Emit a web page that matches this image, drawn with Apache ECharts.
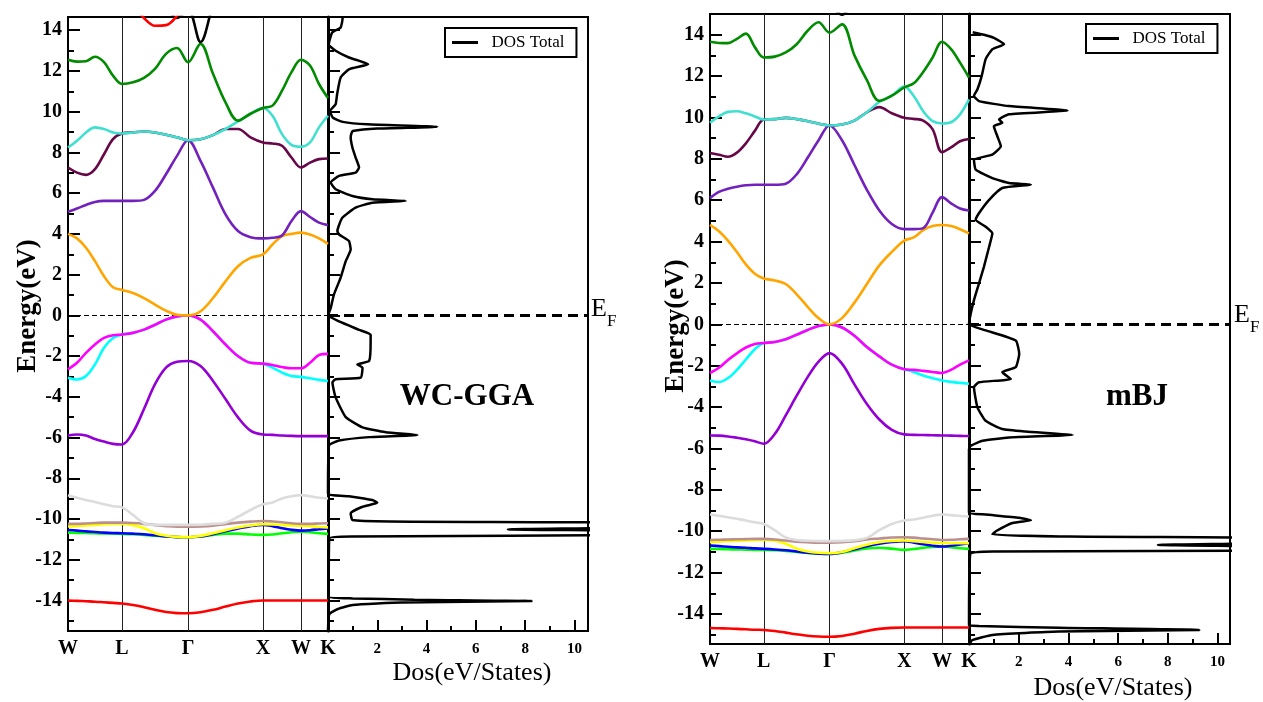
<!DOCTYPE html>
<html><head><meta charset="utf-8">
<script src="https://cdn.jsdelivr.net/npm/echarts@6/dist/echarts.min.js"></script>
<style>html,body{margin:0;padding:0;background:#fff}#c{width:1263px;height:702px}</style>
</head><body><div id="c"></div>
<script>
// ---- k-path and tick data ----
const kPath = [0, 0.09, 0.18, 0.27, 0.36, 0.45, 0.54, 0.65, 0.76, 0.87, 0.98, 1.09, 1.20, 1.325, 1.45, 1.575, 1.70, 1.825, 1.95, 2.045, 2.14, 2.235, 2.33, 2.42, 2.51, 2.60];
const kTicks = [0, 0.54, 1.20, 1.95, 2.33, 2.60];
const kLabels = ['W', 'L', 'Γ', 'X', 'W', 'K'];
const energyMajor = [-14, -12, -10, -8, -6, -4, -2, 0, 2, 4, 6, 8, 10, 12, 14];
const energyMinor = [-15, -13, -11, -9, -7, -5, -3, -1, 1, 3, 5, 7, 9, 11, 13];
const dosMajor = [2, 4, 6, 8, 10];
const dosMinor = [1, 3, 5, 7, 9];
const bandColors = ['#FF0000', '#00FF00', '#0000FF', '#FFFF00', '#BC8F8F', '#DCDCDC', '#9400D3', '#00FFFF', '#FF00FF', '#FFA500', '#7221BC', '#670748', '#40E0D0', '#008B00', '#000000', '#FF0000'];

// ---- WC-GGA bands (eV) ----
const ggaRed1 = [-14.0, -14.02, -14.04, -14.06, -14.09, -14.12, -14.15, -14.22, -14.33, -14.46, -14.57, -14.62, -14.63, -14.58, -14.46, -14.3, -14.15, -14.05, -14.0, -14.0, -14.0, -14.0, -14.0, -14.0, -14.0, -14.0];
const ggaLime = [-10.67, -10.68, -10.69, -10.7, -10.71, -10.72, -10.73, -10.75, -10.78, -10.82, -10.86, -10.89, -10.9, -10.86, -10.78, -10.72, -10.72, -10.76, -10.78, -10.76, -10.7, -10.65, -10.62, -10.65, -10.7, -10.73];
const ggaBlue = [-10.54, -10.57, -10.61, -10.64, -10.67, -10.69, -10.7, -10.72, -10.75, -10.8, -10.86, -10.89, -10.9, -10.86, -10.75, -10.6, -10.47, -10.35, -10.29, -10.35, -10.45, -10.53, -10.57, -10.55, -10.5, -10.46];
const ggaYellow = [-10.37, -10.35, -10.32, -10.29, -10.26, -10.24, -10.24, -10.3, -10.45, -10.7, -10.82, -10.88, -10.89, -10.83, -10.7, -10.55, -10.42, -10.32, -10.26, -10.27, -10.3, -10.32, -10.34, -10.36, -10.39, -10.41];
const ggaBrown = [-10.24, -10.24, -10.22, -10.2, -10.18, -10.18, -10.18, -10.2, -10.24, -10.3, -10.35, -10.38, -10.38, -10.37, -10.33, -10.25, -10.18, -10.13, -10.1, -10.12, -10.16, -10.21, -10.24, -10.24, -10.22, -10.21];
const ggaGrey = [-8.83, -8.96, -9.07, -9.17, -9.28, -9.37, -9.43, -9.8, -10.21, -10.29, -10.29, -10.29, -10.29, -10.28, -10.24, -10.18, -9.89, -9.56, -9.28, -9.19, -8.99, -8.88, -8.83, -8.88, -8.96, -8.99];
const ggaViolet = [-5.9, -5.85, -5.9, -6.07, -6.2, -6.31, -6.34, -5.74, -4.6, -3.38, -2.57, -2.28, -2.24, -2.49, -3.22, -4.11, -5.01, -5.66, -5.85, -5.87, -5.9, -5.92, -5.93, -5.93, -5.93, -5.93];
const ggaCyan = [-3.06, -3.15, -2.98, -2.41, -1.59, -1.11, -0.94, -0.86, -0.7, -0.46, -0.21, -0.05, 0, -0.21, -0.78, -1.43, -2.0, -2.33, -2.37, -2.57, -2.81, -2.98, -3.02, -3.09, -3.17, -3.22];
const ggaMagenta = [-2.65, -2.33, -1.84, -1.43, -1.11, -0.98, -0.94, -0.86, -0.7, -0.46, -0.21, -0.05, 0, -0.21, -0.78, -1.43, -2.0, -2.33, -2.37, -2.44, -2.54, -2.6, -2.6, -2.33, -1.95, -1.89];
const ggaOrange = [4.0, 3.78, 3.32, 2.66, 1.92, 1.38, 1.25, 1.1, 0.85, 0.53, 0.23, 0.03, 0, 0.2, 0.85, 1.67, 2.41, 2.82, 2.99, 3.48, 3.89, 4.0, 4.06, 3.97, 3.78, 3.51];
const ggaIndigo = [5.09, 5.25, 5.42, 5.57, 5.62, 5.62, 5.62, 5.62, 5.67, 6.11, 6.93, 7.83, 8.6, 7.59, 6.27, 4.96, 4.14, 3.84, 3.78, 3.81, 3.92, 4.63, 5.12, 4.83, 4.55, 4.43];
const ggaMaroon = [7.26, 7.01, 6.9, 7.18, 7.91, 8.65, 8.93, 8.98, 9.03, 8.98, 8.87, 8.74, 8.6, 8.65, 8.85, 9.15, 9.15, 8.74, 8.49, 8.44, 8.33, 7.75, 7.26, 7.5, 7.67, 7.7];
const ggaTurquoise = [8.24, 8.57, 8.98, 9.23, 9.15, 8.98, 8.93, 8.98, 9.03, 8.98, 8.87, 8.74, 8.6, 8.65, 8.85, 9.15, 9.52, 9.9, 10.18, 9.8, 8.9, 8.37, 8.28, 8.49, 9.23, 9.8];
const ggaGreen = [12.55, 12.46, 12.48, 12.7, 12.43, 11.77, 11.36, 11.44, 11.66, 12.1, 12.84, 13.13, 12.43, 13.33, 11.86, 10.46, 9.56, 9.9, 10.18, 10.3, 11.03, 11.94, 12.55, 12.27, 11.36, 10.67];
const ggaBlack = [17, 17, 17, 17, 17, 17, 17, 17, 17, 16.2, 15.2, 14.6, 15.0, 13.42, 15.2, 16.5, 17, 17, 17, 17, 17, 17, 17, 17, 17, 17];
const ggaRed2 = [18, 18, 18, 18, 18, 17.5, 16.5, 15.3, 14.6, 14.22, 14.25, 14.7, 15.5, 16.5, 17.5, 18, 18, 18, 18, 18, 18, 18, 18, 18, 18, 18];

// ---- mBJ bands (eV) ----
const mbjRed1 = [-14.68, -14.69, -14.7, -14.72, -14.74, -14.76, -14.77, -14.82, -14.9, -14.98, -15.05, -15.09, -15.1, -15.06, -14.95, -14.82, -14.72, -14.67, -14.65, -14.65, -14.65, -14.65, -14.65, -14.65, -14.65, -14.65];
const mbjLime = [-10.85, -10.86, -10.87, -10.88, -10.89, -10.9, -10.9, -10.92, -10.95, -11.0, -11.05, -11.08, -11.1, -11.04, -10.93, -10.83, -10.8, -10.84, -10.9, -10.86, -10.8, -10.76, -10.74, -10.77, -10.82, -10.85];
const mbjBlue = [-10.69, -10.72, -10.75, -10.78, -10.8, -10.83, -10.85, -10.88, -10.92, -10.98, -11.04, -11.08, -11.1, -11.02, -10.87, -10.72, -10.6, -10.52, -10.48, -10.55, -10.63, -10.7, -10.74, -10.7, -10.64, -10.58];
const mbjYellow = [-10.53, -10.5, -10.48, -10.46, -10.44, -10.43, -10.42, -10.46, -10.6, -10.85, -10.98, -11.04, -11.06, -11.0, -10.82, -10.65, -10.53, -10.47, -10.45, -10.48, -10.52, -10.56, -10.58, -10.58, -10.58, -10.58];
const mbjBrown = [-10.42, -10.41, -10.4, -10.39, -10.38, -10.37, -10.37, -10.4, -10.45, -10.5, -10.53, -10.55, -10.55, -10.53, -10.48, -10.4, -10.35, -10.3, -10.29, -10.31, -10.35, -10.39, -10.42, -10.41, -10.39, -10.37];
const mbjGrey = [-9.19, -9.25, -9.32, -9.4, -9.48, -9.57, -9.65, -9.95, -10.3, -10.42, -10.46, -10.48, -10.48, -10.47, -10.43, -10.32, -9.95, -9.65, -9.48, -9.43, -9.35, -9.25, -9.19, -9.22, -9.26, -9.29];
const mbjViolet = [-5.37, -5.38, -5.42, -5.48, -5.55, -5.65, -5.77, -5.3, -4.4, -3.45, -2.55, -1.8, -1.39, -1.9, -2.9, -3.85, -4.6, -5.1, -5.32, -5.34, -5.35, -5.36, -5.37, -5.38, -5.39, -5.4];
const mbjCyan = [-2.71, -2.79, -2.6, -2.2, -1.7, -1.2, -0.9, -0.85, -0.72, -0.5, -0.27, -0.08, 0, -0.15, -0.55, -1.1, -1.55, -1.95, -2.17, -2.3, -2.47, -2.6, -2.71, -2.78, -2.83, -2.87];
const mbjMagenta = [-2.35, -2.1, -1.72, -1.4, -1.12, -0.95, -0.9, -0.85, -0.72, -0.5, -0.27, -0.08, 0, -0.15, -0.55, -1.1, -1.55, -1.95, -2.17, -2.2, -2.25, -2.3, -2.35, -2.2, -1.95, -1.74];
const mbjOrange = [4.81, 4.5, 4.05, 3.5, 2.9, 2.45, 2.22, 2.12, 1.95, 1.45, 0.85, 0.3, 0, 0.3, 1.05, 1.95, 2.85, 3.5, 4.05, 4.2, 4.55, 4.75, 4.8, 4.75, 4.6, 4.4];
const mbjIndigo = [6.1, 6.4, 6.55, 6.65, 6.72, 6.75, 6.75, 6.75, 6.8, 7.25, 8.05, 8.9, 9.61, 8.9, 7.7, 6.5, 5.5, 4.85, 4.6, 4.6, 4.65, 5.4, 6.15, 5.85, 5.6, 5.5];
const mbjMaroon = [8.28, 8.2, 8.1, 8.3, 8.75, 9.35, 9.9, 9.92, 9.98, 9.92, 9.82, 9.7, 9.61, 9.66, 9.85, 10.25, 10.5, 10.2, 9.98, 9.93, 9.85, 9.42, 8.32, 8.55, 8.85, 8.96];
const mbjTurquoise = [9.74, 10.05, 10.27, 10.3, 10.2, 10.05, 9.9, 9.92, 9.98, 9.92, 9.82, 9.7, 9.61, 9.66, 9.85, 10.25, 10.75, 11.05, 11.49, 11.04, 10.3, 9.82, 9.71, 9.77, 10.15, 10.87];
const mbjGreen = [13.66, 13.6, 13.59, 13.8, 14.05, 13.4, 12.9, 12.94, 13.14, 13.54, 14.19, 14.6, 14.1, 14.5, 13.0, 11.8, 10.8, 11.05, 11.45, 11.65, 12.2, 12.9, 13.66, 13.3, 12.65, 11.93];
const mbjBlack = [17, 17, 17, 17, 17, 17, 17, 17, 17, 17, 17, 16.2, 15.5, 14.97, 15.8, 17, 17, 17, 17, 17, 17, 17, 17, 17, 17, 17];
const mbjRed2 = [18, 18, 18, 18, 18, 18, 18, 18, 18, 18, 18, 18, 18, 18, 18, 18, 18, 18, 18, 18, 18, 18, 18, 18, 18, 18];

// ---- total DOS (energy in eV, DOS in states/eV) ----
const ggaDosE = [14.7, 14.46, 14.13, 13.89, 13.3, 12.99, 12.66, 12.33, 12.08, 11.67, 10.86, 10.37, 10.03, 9.7, 9.5, 9.38, 9.26, 9.17, 9.05, 8.93, 8.74, 8.24, 7.75, 7.26, 7.01, 6.85, 6.52, 6.19, 5.86, 5.7, 5.62, 5.53, 5.29, 4.79, 4.14, 3.97, 3.65, 3.23, 2.66, 1.84, 1.02, 0.36, 0, -0.3, -0.71, -0.95, -1.27, -2.24, -2.41, -2.57, -3.06, -3.14, -3.3, -4.03, -5.0, -5.5, -5.74, -5.87, -5.98, -6.15, -6.39, -8.75, -8.88, -9.07, -9.2, -9.4, -9.72, -10.05, -10.12, -10.2, -10.38, -10.51, -10.62, -10.78, -10.86, -10.95, -13.82, -13.9, -13.96, -14.03, -14.1, -14.22, -14.42, -14.68, -15.5];
const ggaDosV = [0.6, 0.58, 0.51, 0.17, 0.03, 0.31, 0.85, 1.63, 0.85, 0.51, 0.37, 0.31, 0.08, 0.2, 0.6, 1.6, 4.44, 2.0, 1.0, 0.95, 0.92, 0.99, 1.12, 1.26, 1.12, 0.45, 0.11, 0.31, 0.99, 1.8, 3.16, 1.8, 1.12, 0.58, 0.38, 0.45, 0.85, 0.92, 0.72, 0.51, 0.24, 0.11, 0.01, 0.45, 1.26, 1.73, 1.73, 1.67, 1.19, 1.4, 1.33, 0.31, 0.18, 0.31, 0.72, 1.4, 2.34, 3.63, 1.67, 0.45, 0.04, 0, 0.85, 1.8, 2.0, 1.4, 0.92, 0.99, 2.5, 14, 14, 7.3, 14, 14, 1.0, 0.05, 0.03, 1.0, 3.5, 8.27, 3.0, 1.0, 0.4, 0.05, 0];
const mbjDosE = [14.12, 14.0, 13.85, 13.54, 13.3, 12.82, 12.0, 11.36, 11.04, 10.79, 10.55, 10.34, 10.15, 9.9, 9.74, 9.58, 9.09, 8.61, 8.2, 7.96, 7.48, 7.07, 6.83, 6.75, 6.59, 6.02, 5.37, 5.05, 4.72, 4.4, 3.75, 2.78, 1.97, 1.17, 0.52, 0, -0.29, -0.78, -1.42, -2.07, -2.31, -2.64, -2.8, -3.04, -4.01, -4.66, -5.06, -5.18, -5.34, -5.47, -5.63, -5.87, -6.04, -9.1, -9.19, -9.35, -9.47, -9.6, -10.0, -10.16, -10.26, -10.34, -10.52, -10.66, -10.78, -10.92, -10.98, -11.1, -14.53, -14.58, -14.66, -14.77, -14.85, -15.01, -15.26, -15.45];
const mbjDosV = [0.15, 0.6, 1.0, 1.41, 0.94, 0.67, 0.51, 0.34, 0.2, 0.4, 1.61, 3.96, 1.61, 1.21, 1.34, 1.0, 1.14, 1.28, 0.94, 0.2, 0.27, 0.94, 1.61, 2.49, 1.34, 0.81, 0.4, 0.27, 0.67, 0.94, 0.81, 0.6, 0.4, 0.2, 0.07, 0, 0.67, 1.88, 2.02, 1.88, 1.34, 1.68, 0.4, 0.2, 0.34, 0.67, 1.34, 2.28, 4.17, 1.61, 0.54, 0.07, 0, 0, 0.67, 2.02, 2.49, 1.75, 1.08, 0.94, 4.0, 14, 14, 7.6, 14, 14, 1.0, 0.05, 0, 0.4, 3.6, 9.27, 3.6, 0.94, 0.13, 0.02];

const ggaBands = [ggaRed1, ggaLime, ggaBlue, ggaYellow, ggaBrown, ggaGrey, ggaViolet, ggaCyan, ggaMagenta, ggaOrange, ggaIndigo, ggaMaroon, ggaTurquoise, ggaGreen, ggaBlack, ggaRed2];
const mbjBands = [mbjRed1, mbjLime, mbjBlue, mbjYellow, mbjBrown, mbjGrey, mbjViolet, mbjCyan, mbjMagenta, mbjOrange, mbjIndigo, mbjMaroon, mbjTurquoise, mbjGreen, mbjBlack, mbjRed2];

const FONT = 'Liberation Serif';
const option = { animation: false, backgroundColor: '#fff', grid: [], xAxis: [], yAxis: [], series: [], legend: [], graphic: [] };

function yAxisPair(grid, range, majorLen, lineWidth, showLabels) {
  const base = { gridIndex: grid, type: 'value', min: range[0], max: range[1], position: 'left', splitLine: { show: false } };
  const i0 = option.yAxis.length;
  option.yAxis.push(Object.assign({}, base, {
    axisLine: { show: true, onZero: false, lineStyle: { color: '#000', width: lineWidth } },
    axisTick: { show: true, inside: true, length: majorLen, customValues: energyMajor, lineStyle: { color: '#000', width: 2 } },
    axisLabel: showLabels ? { show: true, customValues: energyMajor, margin: 6, color: '#000', fontFamily: FONT, fontSize: 20, fontWeight: 'bold' } : { show: false }
  }));
  option.yAxis.push(Object.assign({}, base, {
    axisLine: { show: false, onZero: false },
    axisTick: { show: true, inside: true, length: 6, customValues: energyMinor, lineStyle: { color: '#000', width: 2 } },
    axisLabel: { show: false }
  }));
  return i0;
}

function addPanel(p) {
  const gB = option.grid.length;
  option.grid.push({ left: p.band[0], top: p.band[1], width: p.band[2], height: p.band[3], show: true, borderColor: '#000', borderWidth: 2 });
  const gD = gB + 1;
  option.grid.push({ left: p.dos[0], top: p.dos[1], width: p.dos[2], height: p.dos[3], show: true, borderColor: '#000', borderWidth: 2 });

  const xB = option.xAxis.length;
  option.xAxis.push({ gridIndex: gB, type: 'value', min: kTicks[0], max: kTicks[kTicks.length - 1], position: 'bottom',
    axisLine: { show: false, onZero: false }, axisTick: { show: false }, splitLine: { show: false },
    axisLabel: { show: true, customValues: kTicks, showMinLabel: true, showMaxLabel: true, hideOverlap: false, margin: 8, color: '#000', fontFamily: FONT, fontSize: 20, fontWeight: 'bold',
      formatter: v => { const i = kTicks.findIndex(t => Math.abs(t - v) < 1e-6); return i >= 0 ? kLabels[i] : ''; } } });
  const xD = option.xAxis.length;
  option.xAxis.push({ gridIndex: gD, type: 'value', min: 0, max: p.dosMax, position: 'bottom',
    axisLine: { show: false, onZero: false }, splitLine: { show: false },
    axisTick: { show: true, inside: true, length: 11, customValues: dosMajor, lineStyle: { color: '#000', width: 2 } },
    axisLabel: { show: true, customValues: dosMajor, margin: 11, color: '#000', fontFamily: FONT, fontSize: 15, fontWeight: 'bold' } });
  option.xAxis.push({ gridIndex: gD, type: 'value', min: 0, max: p.dosMax, position: 'bottom',
    axisLine: { show: false, onZero: false }, splitLine: { show: false },
    axisTick: { show: true, inside: true, length: 5, customValues: dosMinor, lineStyle: { color: '#000', width: 2 } },
    axisLabel: { show: false } });

  const yB = yAxisPair(gB, p.range, 12, 2, true);
  const yD = yAxisPair(gD, p.range, 12, 3, false);

  p.bands.forEach((band, bi) => {
    const s = { type: 'line', xAxisIndex: xB, yAxisIndex: yB, data: kPath.map((k, j) => [k, band[j]]),
      smooth: 0.35, showSymbol: false, symbol: 'none', silent: true, z: 6, clip: true,
      lineStyle: { color: bandColors[bi], width: 2.6 }, itemStyle: { color: bandColors[bi] } };
    if (bi === 0) {
      s.markLine = { silent: true, symbol: 'none', label: { show: false }, animation: false,
        data: kTicks.slice(1, -1).map(k => ({ xAxis: k, lineStyle: { color: '#222', width: 1, type: 'solid' } }))
          .concat([{ yAxis: 0, lineStyle: { color: '#000', width: 1, type: [5, 3] } }]) };
    }
    option.series.push(s);
  });

  option.series.push({ type: 'line', name: 'DOS Total', xAxisIndex: xD, yAxisIndex: yD,
    data: p.dosE.map((e, j) => [p.dosV[j], e]), smooth: 0.15, showSymbol: false, symbol: 'none', clip: true,
    lineStyle: { color: '#000', width: 2.5 }, itemStyle: { color: '#000' },
    markLine: { silent: true, symbol: 'none', label: { show: false }, animation: false,
      data: [{ yAxis: 0, lineStyle: { color: '#000', width: 3, type: [10, 6] } }] } });

  option.legend.push({ left: p.legend[0], top: p.legend[1], data: [{ name: 'DOS Total', icon: 'rect' }],
    itemWidth: 26, itemHeight: 3, padding: [6, 12, 6, 7], borderColor: '#000', borderWidth: 2, selectedMode: false,
    formatter: '  {name}', textStyle: { fontFamily: FONT, fontSize: 17, color: '#000' } });

  option.graphic.push(
    { type: 'text', x: p.eLabel[0], y: p.eLabel[1], rotation: Math.PI / 2, silent: true,
      style: { text: 'Energy(eV)', font: 'bold 27px "Liberation Serif"', fill: '#000', align: 'center', verticalAlign: 'middle' } },
    { type: 'text', x: p.dLabel[0], y: p.dLabel[1], silent: true,
      style: { text: 'Dos(eV/States)', font: '26px "Liberation Serif"', fill: '#000', align: 'center', verticalAlign: 'middle' } },
    { type: 'text', x: p.title[0], y: p.title[1], silent: true,
      style: { text: p.titleText, font: 'bold 31px "Liberation Serif"', fill: '#000', align: 'center', verticalAlign: 'middle' } },
    { type: 'text', x: p.ef[0], y: p.ef[1], silent: true,
      style: { text: 'E', font: '26px "Liberation Serif"', fill: '#000', align: 'left', verticalAlign: 'middle' } },
    { type: 'text', x: p.ef[0] + 16, y: p.ef[1] + 13, silent: true,
      style: { text: 'F', font: '17px "Liberation Serif"', fill: '#000', align: 'left', verticalAlign: 'middle' } }
  );
}

addPanel({ band: [68, 17, 260, 614], dos: [328, 17, 260, 614], range: [-15.5, 14.65], dosMax: 10.55,
  bands: ggaBands, dosE: ggaDosE, dosV: ggaDosV, legend: [445, 28],
  eLabel: [28, 306], dLabel: [472, 673], title: [467, 397], titleText: 'WC-GGA', ef: [591, 309] });
addPanel({ band: [710, 14, 259, 630], dos: [969, 14, 261, 630], range: [-15.45, 15.0], dosMax: 10.5,
  bands: mbjBands, dosE: mbjDosE, dosV: mbjDosV, legend: [1086, 24],
  eLabel: [676, 326], dLabel: [1113, 688], title: [1137, 397], titleText: 'mBJ', ef: [1234, 315] });

const chart = echarts.init(document.getElementById('c'), null, { renderer: 'canvas' });
chart.setOption(option);
</script>
</body></html>
